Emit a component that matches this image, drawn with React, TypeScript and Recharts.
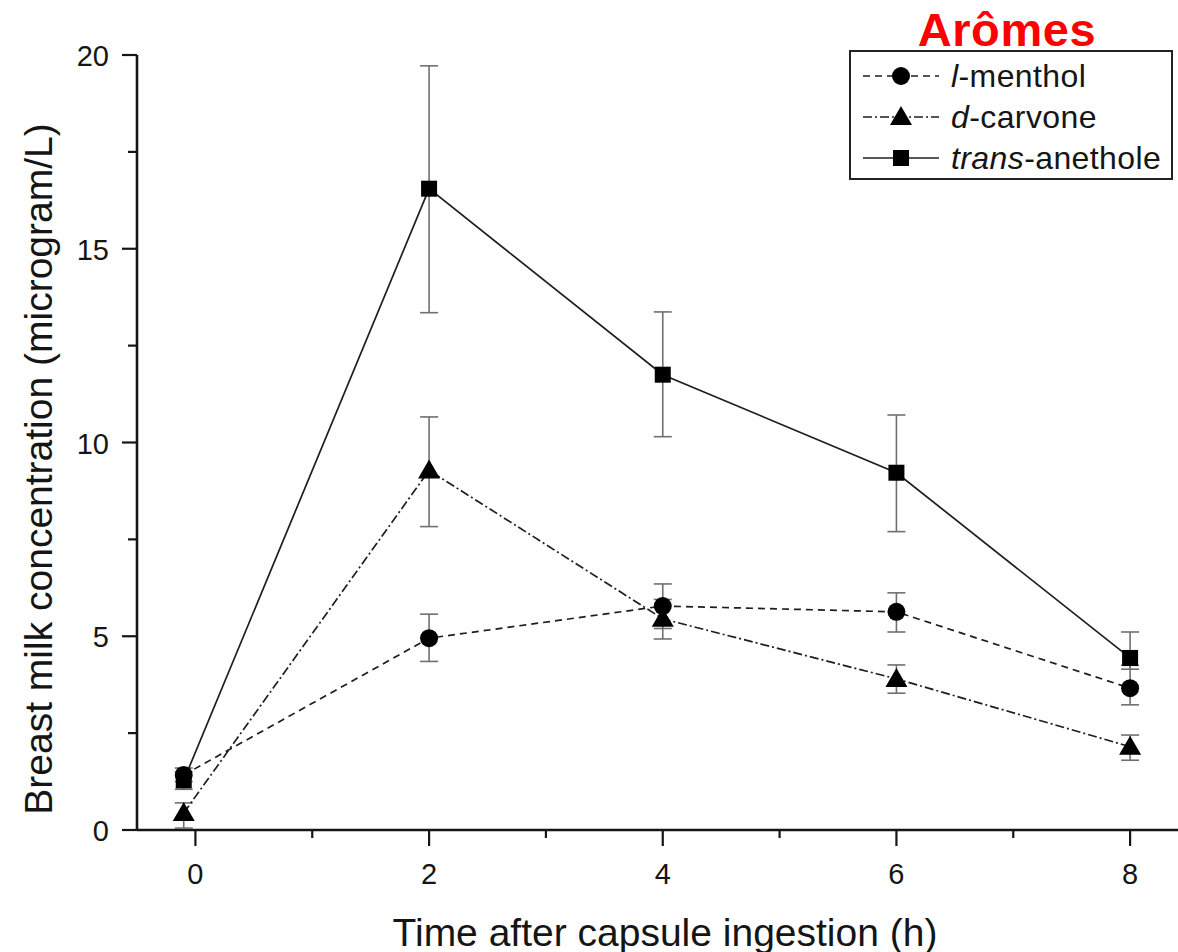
import React from 'react';
import { LineChart, Line, XAxis, YAxis, ErrorBar, Legend, ReferenceLine } from 'recharts';

const times = [-0.1, 2, 4, 6, 8];

const menthol = [1.42, 4.95, 5.78, 5.63, 3.66];
const mentholLow = [1.25, 4.35, 5.2, 5.11, 3.23];
const mentholHigh = [1.6, 5.57, 6.35, 6.12, 4.25];

const carvone = [0.44, 9.28, 5.45, 3.9, 2.15];
const carvoneLow = [0.05, 7.83, 4.93, 3.53, 1.8];
const carvoneHigh = [0.7, 10.66, 5.95, 4.26, 2.45];

const anethole = [1.28, 16.55, 11.75, 9.22, 4.44];
const anetholeLow = [1.05, 13.35, 10.15, 7.7, 4.15];
const anetholeHigh = [1.5, 19.72, 13.37, 10.71, 5.11];

const xTicks = [0, 1, 2, 3, 4, 5, 6, 7, 8];
const xLabels = [0, 2, 4, 6, 8];
const yTicks = [0, 2.5, 5, 7.5, 10, 12.5, 15, 17.5, 20];
const yLabels = [0, 5, 10, 15, 20];
const xMin = -0.5;
const xMax = 8.41;

const seriesNames = ['l-menthol', 'd-carvone', 'trans-anethole'];
const seriesPrefix = ['l', 'd', 'trans'];
const seriesSuffix = ['-menthol', '-carvone', '-anethole'];
const legendTitle = 'Arômes';
const xTitle = 'Time after capsule ingestion (h)';
const yTitle = 'Breast milk concentration (microgram/L)';

const data = times.map((t, i) => ({
  t,
  menthol: menthol[i],
  mentholErr: [menthol[i] - mentholLow[i], mentholHigh[i] - menthol[i]],
  carvone: carvone[i],
  carvoneErr: [carvone[i] - carvoneLow[i], carvoneHigh[i] - carvone[i]],
  anethole: anethole[i],
  anetholeErr: [anethole[i] - anetholeLow[i], anetholeHigh[i] - anethole[i]],
}));

const FONT = '"Liberation Sans", Arial, Helvetica, sans-serif';
const INK = '#151515';
const LINE = '#1e1e1e';
const ERR = '#707070';

const dashMenthol = '7 5';
const dashCarvone = '9 3 2 3';

const circleShape = (cx: number, cy: number, k?: any) => (
  <circle key={k} cx={cx} cy={cy} r={9} fill="#000" />
);
const triangleShape = (cx: number, cy: number, k?: any) => (
  <path key={k} d={`M${cx},${cy - 11} L${cx + 11},${cy + 8} L${cx - 11},${cy + 8} Z`} fill="#000" />
);
const squareShape = (cx: number, cy: number, k?: any) => (
  <rect key={k} x={cx - 8} y={cy - 8} width={16} height={16} fill="#000" />
);

const makeDot = (shape: any) => (props: any) => {
  const { cx, cy, index } = props;
  if (cx == null || cy == null) return <g key={`e${index}`} />;
  return shape(cx, cy, `d${index}`);
};

const YTick = (props: any) => {
  const { x, y, payload } = props;
  const v = payload.value;
  const major = yLabels.includes(v);
  return (
    <g>
      <line x1={x} x2={x - (major ? 15 : 9)} y1={y} y2={y} stroke={INK} strokeWidth={2.2} />
      {major && (
        <text x={x - 28} y={y + 1} textAnchor="end" dominantBaseline="central" fontSize={29} fontFamily={FONT} fill={INK}>
          {v}
        </text>
      )}
    </g>
  );
};

const XTick = (props: any) => {
  const { x, y, payload } = props;
  const v = payload.value;
  const major = xLabels.includes(v);
  return (
    <g>
      <line x1={x} x2={x} y1={y} y2={y + (major ? 16 : 8)} stroke={INK} strokeWidth={2.2} />
      {major && (
        <text x={x} y={y + 44} textAnchor="middle" dominantBaseline="central" fontSize={29} fontFamily={FONT} fill={INK}>
          {v}
        </text>
      )}
    </g>
  );
};

const XLabel = () => (
  <text x={665} y={932} textAnchor="middle" dominantBaseline="central" fontSize={39} fontFamily={FONT} fill={INK}>
    {xTitle}
  </text>
);

const YLabel = () => (
  <text
    x={38}
    y={469}
    transform="rotate(-90 38 469)"
    textAnchor="middle"
    dominantBaseline="central"
    fontSize={39}
    fontFamily={FONT}
    fill={INK}
  >
    {yTitle}
  </text>
);

const legendStyles = [
  { dash: dashMenthol, shape: circleShape },
  { dash: dashCarvone, shape: triangleShape },
  { dash: undefined, shape: squareShape },
];

const renderLegend = () => (
  <div style={{ width: 324, fontFamily: FONT }}>
    <div
      style={{
        height: 50,
        textAlign: 'center',
        color: '#ff0000',
        fontWeight: 'bold',
        fontSize: 47,
        lineHeight: '60px',
        marginLeft: -8,
        letterSpacing: 0.6,
      }}
    >
      {legendTitle}
    </div>
    <div style={{ border: '2px solid #222', width: 320, height: 126, position: 'relative', background: '#fff' }}>
      {seriesNames.map((n, i) => (
        <div key={n} style={{ position: 'absolute', left: 0, top: 4 + i * 41, height: 40, width: 320 }}>
          <svg width={95} height={40} style={{ position: 'absolute', left: 0, top: 0 }}>
            <line x1={12} x2={88} y1={20} y2={20} stroke={LINE} strokeWidth={1.6} strokeDasharray={legendStyles[i].dash} />
            {legendStyles[i].shape(50, 20)}
          </svg>
          <div
            style={{
              position: 'absolute',
              left: 100,
              top: 0,
              height: 40,
              lineHeight: '40px',
              fontSize: 32,
              letterSpacing: 0.4,
              color: INK,
              whiteSpace: 'nowrap',
            }}
          >
            <i>{seriesPrefix[i]}</i>
            {seriesSuffix[i]}
          </div>
        </div>
      ))}
    </div>
  </div>
);

export default function App() {
  return (
    <div style={{ position: 'absolute', left: 0, top: 0, width: 1178, height: 952, background: '#fff' }}>
      <LineChart width={1178} height={952} data={data} margin={{ top: 55, right: 0, bottom: 0, left: 37 }}>
        <XAxis
          dataKey="t"
          type="number"
          domain={[xMin, xMax]}
          ticks={xTicks}
          interval={0}
          allowDataOverflow
          height={122}
          tickSize={0}
          tickMargin={0}
          tickLine={false}
          tick={<XTick />}
          axisLine={false}
          label={<XLabel />}
        />
        <YAxis
          type="number"
          domain={[0, 20]}
          ticks={yTicks}
          interval={0}
          width={100}
          tickSize={0}
          tickMargin={0}
          tickLine={false}
          tick={<YTick />}
          axisLine={false}
          label={<YLabel />}
        />
        <ReferenceLine x={xMin} stroke={INK} strokeWidth={2.6} ifOverflow="visible" />
        <ReferenceLine y={0} stroke={INK} strokeWidth={2.6} ifOverflow="visible" />
        <Legend
          layout="vertical"
          align="center"
          verticalAlign="middle"
          content={renderLegend}
          wrapperStyle={{ position: 'absolute', left: 849, top: 0, width: 324, height: 180 }}
        />
        <Line
          dataKey="menthol"
          name={seriesNames[0]}
          stroke={LINE}
          strokeWidth={1.7}
          strokeDasharray={dashMenthol}
          dot={makeDot(circleShape)}
          activeDot={false}
          isAnimationActive={false}
        >
          <ErrorBar dataKey="mentholErr" width={9} stroke={ERR} strokeWidth={1.6} direction="y" />
        </Line>
        <Line
          dataKey="carvone"
          name={seriesNames[1]}
          stroke={LINE}
          strokeWidth={1.7}
          strokeDasharray={dashCarvone}
          dot={makeDot(triangleShape)}
          activeDot={false}
          isAnimationActive={false}
        >
          <ErrorBar dataKey="carvoneErr" width={9} stroke={ERR} strokeWidth={1.6} direction="y" />
        </Line>
        <Line
          dataKey="anethole"
          name={seriesNames[2]}
          stroke={LINE}
          strokeWidth={1.7}
          dot={makeDot(squareShape)}
          activeDot={false}
          isAnimationActive={false}
        >
          <ErrorBar dataKey="anetholeErr" width={9} stroke={ERR} strokeWidth={1.6} direction="y" />
        </Line>
      </LineChart>
    </div>
  );
}
